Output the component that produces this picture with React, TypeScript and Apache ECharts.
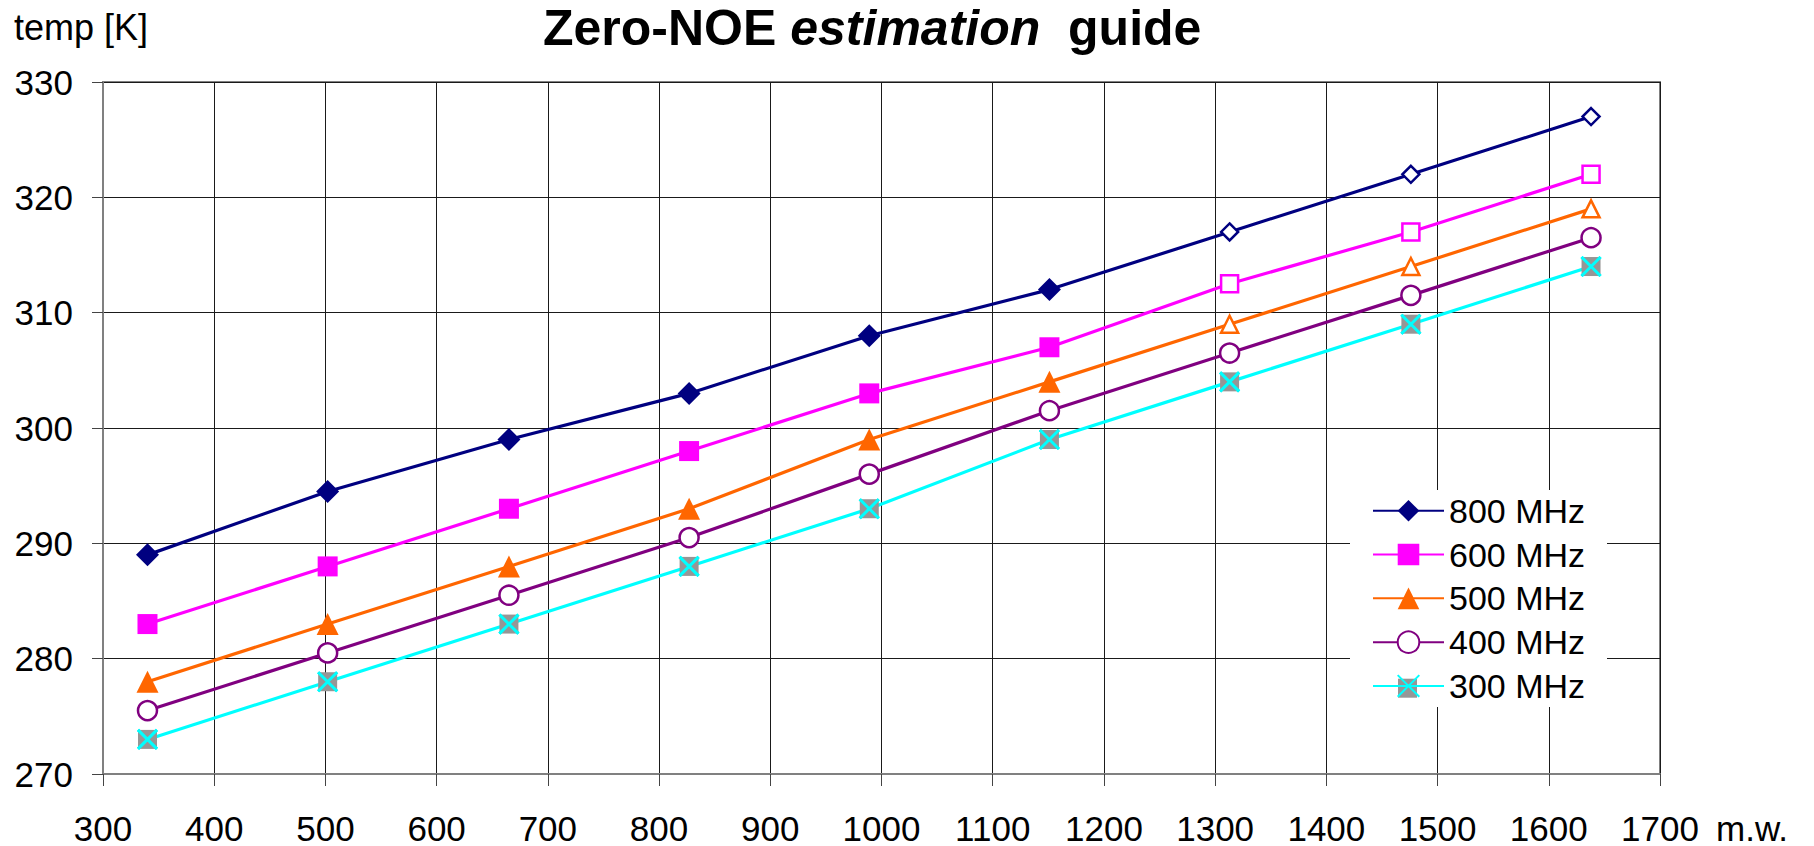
import React, { useEffect, useRef } from "react";
import * as echarts from "echarts";

const X_MW = [340, 502, 665, 827, 989, 1151, 1313, 1476, 1638];
const T800 = [289, 294.5, 299, 303, 308, 312, 317, 322, 327];
const T600 = [283, 288, 293, 298, 303, 307, 312.5, 317, 322];
const T500 = [278, 283, 288, 293, 299, 304, 309, 314, 319];
const T400 = [275.5, 280.5, 285.5, 290.5, 296, 301.5, 306.5, 311.5, 316.5];
const T300 = [273, 278, 283, 288, 293, 299, 304, 309, 314];
const SERIES_NAMES = ["800 MHz", "600 MHz", "500 MHz", "400 MHz", "300 MHz"];
const HOLLOW_FROM = 6;

const FONT = "'Liberation Sans', Arial, Helvetica, sans-serif";
const XPATH = "path://M0,0L10,10M10,0L0,10";

function mk(name: string, ys: number[], color: string, symbol: string, size: number, hollowFrom: number, hollowAll = false) {
  return {
    name,
    type: "line",
    symbol,
    symbolSize: size,
    lineStyle: { color, width: 3.2 },
    itemStyle: hollowAll
      ? { color: "#ffffff", borderColor: color, borderWidth: 2.5 }
      : { color, borderColor: color, borderWidth: 0 },
    data: X_MW.map((x, i) =>
      i >= hollowFrom
        ? { value: [x, ys[i]], symbolSize: 17, itemStyle: { color: "#ffffff", borderColor: color, borderWidth: 2.5 } }
        : [x, ys[i]]
    ),
  };
}

export default function App() {
  const ref = useRef<HTMLDivElement>(null);
  useEffect(() => {
    if (!ref.current) return;
    const chart = echarts.init(ref.current, null, { renderer: "svg" });
    const legendLeft = 1372;
    const itemH = 27;
    const textH = 34.5;
    const rowSpacing = 44.3;
    const itemGap = rowSpacing - textH;
    const firstCy = 511;
    const legendTop = firstCy - textH / 2;
    const iconCx = legendLeft + 71 / 2;
    const row300Cy = firstCy + 4 * rowSpacing;
    chart.setOption({
      animation: false,
      backgroundColor: "#ffffff",
      textStyle: { fontFamily: FONT },
      title: {
        left: 543,
        top: 0,
        padding: 0,
        text: "{b|Zero-NOE }{i|estimation}{b|  guide}",
        textStyle: {
          rich: {
            b: { fontFamily: FONT, fontSize: 50, fontWeight: "bold", color: "#000", lineHeight: 56 },
            i: { fontFamily: FONT, fontSize: 50, fontWeight: "bold", fontStyle: "italic", color: "#000", lineHeight: 56 },
          },
        },
      },
      grid: {
        left: 103,
        top: 82,
        right: 154,
        bottom: 72,
        show: true,
        borderColor: "#808080",
        borderWidth: 2,
        backgroundColor: "transparent",
      },
      graphic: [
        { type: "rect", z: 1, shape: { x: 1350, y: 490, width: 257, height: 217 }, style: { fill: "#ffffff" } },
        { type: "rect", z: 3, shape: { x: iconCx - 9.5, y: row300Cy - 9.5, width: 19, height: 19 }, style: { fill: "#969696" } },
      ],
      legend: {
        data: SERIES_NAMES,
        orient: "vertical",
        left: legendLeft,
        top: legendTop,
        padding: 0,
        itemWidth: 71,
        itemHeight: itemH,
        itemGap,
        z: 4,
        backgroundColor: "transparent",
        selectedMode: false,
        textStyle: { fontFamily: FONT, fontSize: 34, color: "#000" },
      },
      xAxis: {
        type: "value",
        min: 300,
        max: 1700,
        interval: 100,
        name: "m.w.",
        nameLocation: "end",
        nameGap: 56,
        nameTextStyle: { fontFamily: FONT, fontSize: 35, color: "#000", verticalAlign: "top", lineHeight: 34, padding: [37, 0, 0, 0] },
        axisLine: { show: true, lineStyle: { color: "#808080", width: 2 } },
        axisTick: { show: true, length: 12, lineStyle: { color: "#444", width: 1 } },
        axisLabel: { fontFamily: FONT, fontSize: 35, color: "#000", margin: 37, lineHeight: 34, formatter: (v: number) => String(v) },
        splitLine: { show: true, lineStyle: { color: "#1a1a1a", width: 1 } },
      },
      yAxis: {
        type: "value",
        min: 270,
        max: 330,
        interval: 10,
        name: "temp [K]",
        nameLocation: "end",
        nameGap: 55,
        nameTextStyle: { fontFamily: FONT, fontSize: 36, color: "#000", align: "center", verticalAlign: "middle", padding: [0, 44, 0, 0] },
        axisLine: { show: true, lineStyle: { color: "#808080", width: 2 } },
        axisTick: { show: true, length: 11, lineStyle: { color: "#444", width: 1 } },
        axisLabel: { fontFamily: FONT, fontSize: 35, color: "#000", margin: 30, formatter: (v: number) => String(v) },
        splitLine: { show: true, lineStyle: { color: "#1a1a1a", width: 1 } },
      },
      series: [
        mk("800 MHz", T800, "#000080", "diamond", 23, HOLLOW_FROM),
        mk("600 MHz", T600, "#FF00FF", "rect", 20, HOLLOW_FROM),
        mk("500 MHz", T500, "#FF6600", "triangle", 22, HOLLOW_FROM),
        mk("400 MHz", T400, "#800080", "circle", 19, 99, true),
        {
          name: "300 MHz",
          type: "line",
          symbol: XPATH,
          symbolSize: 19,
          lineStyle: { color: "#00FFFF", width: 3.2 },
          itemStyle: { color: "#00FFFF", borderColor: "#00FFFF", borderWidth: 3 },
          data: X_MW.map((x, i) => [x, T300[i]]),
        },
        {
          name: "300 MHz squares",
          type: "line",
          symbol: "rect",
          symbolSize: 19,
          lineStyle: { opacity: 0, width: 0 },
          itemStyle: { color: "#969696" },
          data: X_MW.map((x, i) => [x, T300[i]]),
        },
        {
          name: "300 MHz crosses",
          type: "line",
          symbol: XPATH,
          symbolSize: 19,
          lineStyle: { opacity: 0, width: 0 },
          itemStyle: { color: "#00FFFF", borderColor: "#00FFFF", borderWidth: 3 },
          data: X_MW.map((x, i) => [x, T300[i]]),
        },
      ],
    });
    return () => chart.dispose();
  }, []);
  return <div ref={ref} style={{ position: "fixed", left: 0, top: 0, width: 1814, height: 846 }} />;
}
